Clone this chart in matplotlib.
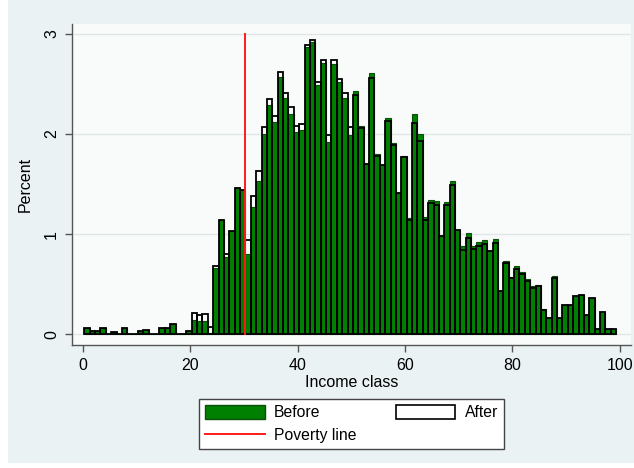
import numpy as np
import matplotlib
matplotlib.use('Agg')
import matplotlib.pyplot as plt
from matplotlib.patches import Patch, Rectangle
from matplotlib.lines import Line2D

plt.rcParams['font.family'] = ['Liberation Sans', 'DejaVu Sans']

# percent per income class (classes 0..98)
before = [0.063, 0.037, 0.037, 0.063, 0, 0.023, 0, 0.063, 0, 0,
          0.037, 0.047, 0, 0, 0.063, 0.063, 0.107, 0, 0, 0.03,
          0.14, 0.13, 0.13, 0.01, 0.66, 1.14, 0.77, 1.03, 1.46, 1.44,
          0.80, 1.27, 1.53, 2.00, 2.29, 2.12, 2.57, 2.36, 2.20, 2.02,
          2.04, 2.87, 2.92, 2.49, 2.71, 1.92, 2.70, 2.52, 2.36, 1.99,
          2.43, 2.08, 1.70, 2.61, 1.80, 1.69, 2.16, 1.91, 1.41, 1.78,
          1.16, 2.20, 2.00, 1.17, 1.34, 1.33, 0.98, 1.32, 1.53, 1.04,
          0.88, 1.01, 0.88, 0.92, 0.94, 0.83, 0.95, 0.43, 0.73, 0.57,
          0.68, 0.62, 0.55, 0.48, 0.49, 0.25, 0.16, 0.58, 0.16, 0.29,
          0.29, 0.38, 0.39, 0.19, 0.36, 0.05, 0.22, 0.05, 0.05]
after = [0.063, 0.037, 0.037, 0.063, 0, 0.023, 0, 0.063, 0, 0,
         0.037, 0.047, 0, 0, 0.063, 0.063, 0.107, 0, 0, 0.03,
         0.21, 0.19, 0.20, 0.07, 0.68, 1.14, 0.80, 1.03, 1.46, 1.44,
         0.94, 1.38, 1.63, 2.07, 2.35, 2.18, 2.62, 2.41, 2.27, 2.08,
         2.10, 2.89, 2.94, 2.52, 2.74, 1.99, 2.74, 2.55, 2.41, 2.07,
         2.39, 2.06, 1.70, 2.56, 1.78, 1.69, 2.13, 1.89, 1.41, 1.77,
         1.14, 2.11, 1.93, 1.14, 1.31, 1.29, 0.98, 1.29, 1.49, 1.04,
         0.84, 0.96, 0.85, 0.88, 0.90, 0.83, 0.91, 0.43, 0.71, 0.56,
         0.65, 0.60, 0.53, 0.46, 0.48, 0.24, 0.16, 0.56, 0.16, 0.29,
         0.29, 0.38, 0.39, 0.19, 0.36, 0.05, 0.22, 0.05, 0.05]
bin_start = 0.3
poverty_line = 30.3
xticks = [0, 20, 40, 60, 80, 100]
yticks = [0, 1, 2, 3]

edges = bin_start + np.arange(len(before))

fig = plt.figure(figsize=(6.34, 4.68), dpi=100)
fig.patch.set_facecolor('white')
fig.patches.append(Rectangle((8/634, 5/468), 626/634, 463/468, transform=fig.transFigure,
                             facecolor='#eaf2f3', edgecolor='none', zorder=-10))

ax = fig.add_axes([71.7/634, 123/468, 559/634, 321/468])
ax.set_facecolor('#f9fafa')
ax.bar(edges, before, width=1.0, align='edge', color='#008000', edgecolor='#0b4f0b',
       linewidth=0.8, zorder=2)
ax.bar(edges, after, width=1.0, align='edge', fill=False, edgecolor='black',
       linewidth=1.3, zorder=3)
ax.plot([poverty_line, poverty_line], [0, 3], color='#ff1a1a', lw=1.4, zorder=4)

ax.set_xlim(-2.04, 102.0)
ax.set_ylim(-0.105, 3.097)
ax.set_xticks(xticks)
ax.set_yticks(yticks)
ax.grid(axis='y', color='#dde7e9', lw=0.9, zorder=0)
ax.set_axisbelow(True)
for s in ['top', 'right']:
    ax.spines[s].set_visible(False)
for s in ['left', 'bottom']:
    ax.spines[s].set_color('#555555')
    ax.spines[s].set_linewidth(1.0)
ax.tick_params(axis='both', direction='out', length=5, width=1.0, color='#555555',
               labelsize=11.5, pad=4)
ax.tick_params(axis='y', labelrotation=90)
for t in ax.get_yticklabels():
    t.set_va('center')
ax.set_xlabel('Income class', fontsize=11.5, labelpad=2)
ax.set_ylabel('Percent', fontsize=11.5, labelpad=8)

handles = [Patch(facecolor='#008000', edgecolor='#0b4f0b', label='Before'),
           Line2D([0], [0], color='#ff1a1a', lw=1.4, label='Poverty line'),
           Patch(facecolor='white', edgecolor='black', lw=1.2, label='After')]
leg = fig.legend(handles=handles, loc='center', bbox_to_anchor=(351.5/634, 1 - 424/468),
                 ncol=2, fontsize=11.3, fancybox=False, framealpha=1, edgecolor='#444444',
                 facecolor='white', handlelength=3.8, handleheight=1.0, handletextpad=0.6,
                 columnspacing=2.5, labelspacing=0.45, borderpad=0.4)
leg.get_frame().set_linewidth(1.0)

fig.savefig('out.png', dpi=100, facecolor=fig.get_facecolor())
